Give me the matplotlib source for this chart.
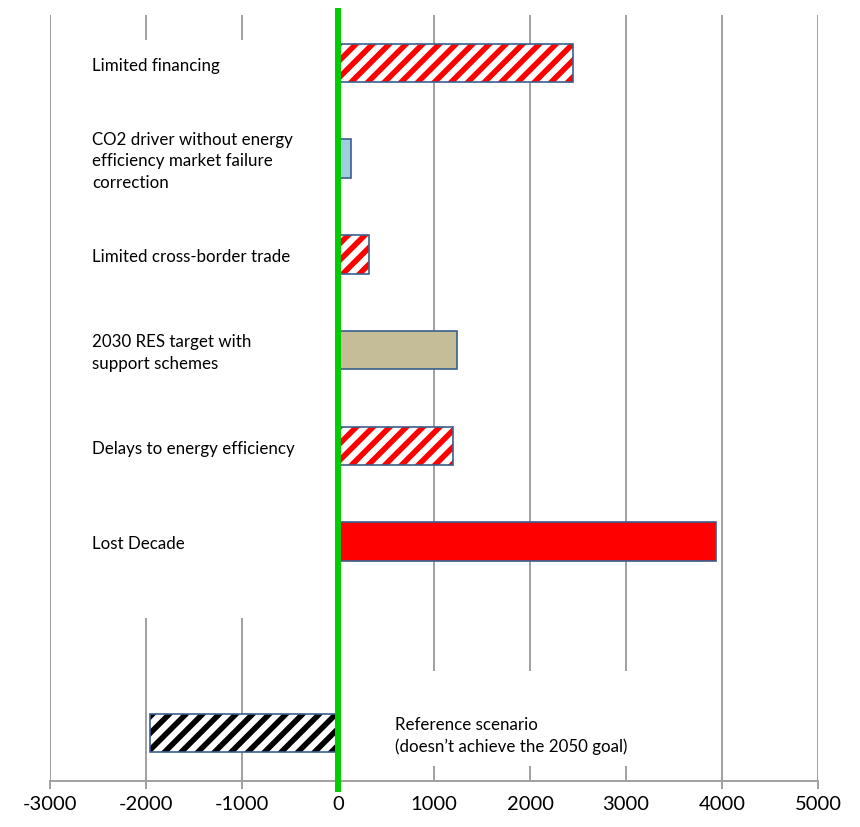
import numpy as np
import matplotlib
matplotlib.use("Agg")
import matplotlib.pyplot as plt
from matplotlib.patches import Rectangle

# Scenario rows from top to bottom; None marks the empty spacer row
scenarios = [
    "Limited financing",
    "CO2 driver without energy\nefficiency market failure\ncorrection",
    "Limited cross-border trade",
    "2030 RES target with\nsupport schemes",
    "Delays to energy efficiency",
    "Lost Decade",
    None,
    "Reference scenario\n(doesn\u2019t achieve the 2050 goal)",
]
values = [2450, 140, 320, 1240, 1200, 3940, None, -1960]
xticks = [-3000, -2000, -1000, 0, 1000, 2000, 3000, 4000, 5000]

# (face colour, hatch colour) per row
styles = [
    ("white", "#FF0000"),
    ("#9DCFE0", None),
    ("white", "#FF0000"),
    ("#C4BD97", None),
    ("white", "#FF0000"),
    ("#FF0000", None),
    None,
    ("white", "#000000"),
]

plt.rcParams["font.family"] = ["Lato", "DejaVu Sans"]
plt.rcParams["hatch.linewidth"] = 4.0

fig = plt.figure(figsize=(8.6, 8.27), dpi=100)
ax = fig.add_axes([50 / 860, 46 / 827, 768 / 860, 766 / 827])

ax.set_xlim(-3000, 5000)
ax.set_ylim(7.5, -0.5)
ax.set_xticks(xticks)
ax.set_xticklabels([str(t) for t in xticks], fontsize=14.5)
ax.set_yticks([])

for side in ["top", "left", "right"]:
    ax.spines[side].set_visible(False)
ax.spines["bottom"].set_color("#A0A0A0")
ax.spines["bottom"].set_linewidth(1.4)
ax.tick_params(axis="x", length=6, width=1.4, color="#A0A0A0", pad=5)
for t in ax.xaxis.get_major_ticks():
    if t.get_loc() in (1000, 2000, 3000):
        t.tick1line.set_visible(False)

ax.grid(axis="x", color="#A0A0A0", linewidth=1.4, zorder=0)
ax.set_axisbelow(True)

# white label areas hide the gridlines behind the text
ax.add_patch(Rectangle((-2920, -0.24), 2900, 6.04, facecolor="white",
                       edgecolor="none", zorder=1))
ax.add_patch(Rectangle((440, 6.35), 3330, 0.99, facecolor="white",
                       edgecolor="none", zorder=1))

bar_h = 0.4
edge = "#3C5F8E"
for i, (val, st) in enumerate(zip(values, styles)):
    if val is None:
        continue
    face, hatch_col = st
    if hatch_col is not None:
        ax.barh(i, val, height=bar_h, color=face, edgecolor=hatch_col,
                linewidth=0, hatch="//", zorder=2)
        ax.barh(i, val, height=bar_h, fill=False, edgecolor=edge,
                linewidth=1.2, zorder=3)
    else:
        ax.barh(i, val, height=bar_h, color=face, edgecolor=edge,
                linewidth=1.2, zorder=3)

# scenario names
for i, name in enumerate(scenarios):
    if name is None:
        continue
    x = 594 if values[i] < 0 else -2560
    ax.text(x, i + 0.03, name, ha="left", va="center", fontsize=12.2,
            linespacing=1.42, zorder=5)

# zero line
ax.plot([0, 0], [-0.573, 7.615], color="#00CC00", linewidth=4.3,
        solid_capstyle="butt", clip_on=False, zorder=6)

fig.savefig("out.png", dpi=100)
